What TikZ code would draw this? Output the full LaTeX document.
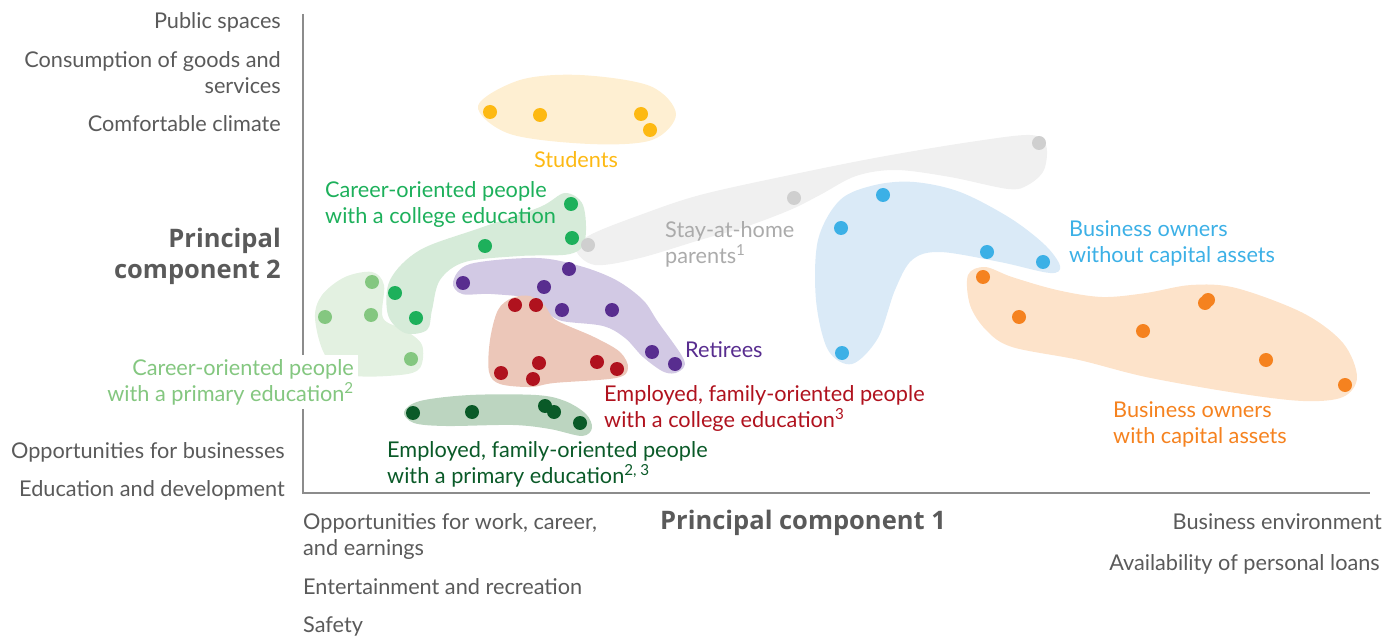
\documentclass[tikz,border=0pt]{standalone}
\usepackage{fontspec}
\setmainfont{Lato}
\newfontfamily\titlefamily{Open Sans}
\definecolor{axisgray}{HTML}{8C8C8C}
\definecolor{labelgray}{HTML}{5A5A5A}
\definecolor{stuyellow}{HTML}{FDB913}
\definecolor{stuyellowbg}{HTML}{FEEFD2}
\definecolor{ccgreen}{HTML}{1DB05B}
\definecolor{ccgreenbg}{HTML}{D6EBD9}
\definecolor{cpgreen}{HTML}{84C780}
\definecolor{cpgreenbg}{HTML}{E3F1E1}
\definecolor{shgray}{HTML}{CFCFCF}
\definecolor{shgraybg}{HTML}{F0F0F0}
\definecolor{shtext}{HTML}{ABABAB}
\definecolor{bwblue}{HTML}{3CB0E6}
\definecolor{bwbluebg}{HTML}{DAEAF7}
\definecolor{bcorange}{HTML}{F5821F}
\definecolor{bcorangebg}{HTML}{FDE3CA}
\definecolor{rtpurple}{HTML}{582D8F}
\definecolor{rtpurplebg}{HTML}{D2C9E4}
\definecolor{ecred}{HTML}{B0121E}
\definecolor{ecredbg}{HTML}{ECC7B9}
\definecolor{epgreen}{HTML}{0A5A28}
\definecolor{epgreenbg}{HTML}{BCD5C0}
\newcommand{\lblfont}{\fontsize{21.7}{26}\selectfont}
\newcommand{\ttlfont}{\titlefamily\fontsize{25.5}{30.5}\selectfont\bfseries}
\tikzset{
    pdot/.style={
        circle,
        inner sep=0pt,
        minimum size=14pt
    },
    blob/.style={
        smooth cycle,
        tension=0.55
    },
    axislabel/.style={
        font=\lblfont,
        text=labelgray,
        inner sep=0pt
    },
    axistitle/.style={
        font=\ttlfont,
        text=labelgray,
        inner sep=0pt
    },
    grouplabel/.style={
        font=\lblfont,
        inner sep=0pt,
        align=left
    }
}

\begin{document}
\begin{tikzpicture}[x=1pt,y=-1pt]
\useasboundingbox (0,0) rectangle (1400,636);
% clusters
\fill[shgraybg] plot[blob] coordinates {(576,250) (590,235) (640,215) (700,195) (790,175) (880,157) (970,142) (1030,135) (1046,145) (1044,170) (1028,185) (1008,189) (950,177) (896,170) (856,176) (820,195) (790,210) (745,227) (700,240) (640,258) (595,265)};
\fill[stuyellowbg] plot[blob] coordinates {(478,106) (520,80) (580,75) (650,86) (676,114) (652,140) (590,144) (510,134)};
\fill[cpgreenbg] plot[blob] coordinates {(315,318) (322,295) (345,277) (372,272) (384,285) (383,318) (405,330) (422,345) (420,368) (400,375) (350,375) (325,355)};
\fill[ccgreenbg] plot[blob] coordinates {(565,193) (583,205) (585,240) (570,254) (520,256) (465,262) (440,280) (432,310) (427,330) (405,333) (388,315) (390,280) (420,250) (480,228) (540,207)};
\fill[rtpurplebg] plot[blob] coordinates {(453,282) (470,264) (536,258) (580,266) (616,280) (643,300) (658,322) (684,360) (678,372) (664,372) (643,357) (625,338) (603,326) (562,321) (547,312) (536,299) (491,294) (462,294)};
\fill[ecredbg] plot[blob] coordinates {(498,310) (512,298) (530,296) (545,306) (556,320) (594,337) (620,352) (628,368) (616,378) (554,383) (531,387) (500,384) (489,372) (490,340)};
\fill[epgreenbg] plot[blob] coordinates {(404,412) (420,401) (470,395) (536,395) (565,401) (586,414) (592,428) (582,436) (550,429) (513,425) (446,426) (414,423)};
\fill[bwbluebg] plot[blob] coordinates {(914,182) (960,192) (1010,218) (1045,245) (1060,266) (1050,273) (1000,262) (940,252) (912,260) (895,290) (878,338) (852,364) (828,350) (816,300) (818,240) (840,200) (875,185)};
\fill[bcorangebg] plot[blob] coordinates {(968,275) (985,267) (1012,277) (1057,290) (1102,297) (1146,293) (1191,285) (1236,288) (1303,313) (1343,343) (1357,377) (1343,397) (1303,401) (1236,393) (1146,377) (1079,360) (1012,347) (986,330) (970,305)};
% axes
\coordinate (top) at (303,14);
\coordinate (origin) at (303,493);
\coordinate (right) at (1370,493);
\draw[axisgray, line width=2pt] (top) -- (origin) -- (right);
% dots
\node[pdot,fill=stuyellow] (st1) at (490,112) {};
\node[pdot,fill=stuyellow] (st2) at (540,115) {};
\node[pdot,fill=stuyellow] (st3) at (641,114) {};
\node[pdot,fill=stuyellow] (st4) at (650,130) {};
\node[pdot,fill=ccgreen] (cc1) at (571,204) {};
\node[pdot,fill=ccgreen] (cc2) at (572,238) {};
\node[pdot,fill=ccgreen] (cc3) at (485,246) {};
\node[pdot,fill=ccgreen] (cc4) at (395,293) {};
\node[pdot,fill=ccgreen] (cc5) at (416,318) {};
\node[pdot,fill=cpgreen] (cp1) at (372,282) {};
\node[pdot,fill=cpgreen] (cp2) at (371,315) {};
\node[pdot,fill=cpgreen] (cp3) at (325,317) {};
\node[pdot,fill=cpgreen] (cp4) at (411,359) {};
\node[pdot,fill=shgray] (sh1) at (588,245) {};
\node[pdot,fill=shgray] (sh2) at (794,198) {};
\node[pdot,fill=shgray] (sh3) at (1039,143) {};
\node[pdot,fill=bwblue] (bw1) at (883,195) {};
\node[pdot,fill=bwblue] (bw2) at (841,228) {};
\node[pdot,fill=bwblue] (bw3) at (987,252) {};
\node[pdot,fill=bwblue] (bw4) at (1043,262) {};
\node[pdot,fill=bwblue] (bw5) at (842,353) {};
\node[pdot,fill=bcorange] (bc1) at (983,277) {};
\node[pdot,fill=bcorange] (bc2) at (1019,317) {};
\node[pdot,fill=bcorange] (bc3) at (1143,331) {};
\node[pdot,fill=bcorange] (bc4) at (1205,303) {};
\node[pdot,fill=bcorange] (bc5) at (1208,300) {};
\node[pdot,fill=bcorange] (bc6) at (1266,360) {};
\node[pdot,fill=bcorange] (bc7) at (1345,385) {};
\node[pdot,fill=rtpurple] (rt1) at (463,283) {};
\node[pdot,fill=rtpurple] (rt2) at (569,269) {};
\node[pdot,fill=rtpurple] (rt3) at (544,287) {};
\node[pdot,fill=rtpurple] (rt4) at (562,310) {};
\node[pdot,fill=rtpurple] (rt5) at (612,310) {};
\node[pdot,fill=rtpurple] (rt6) at (652,352) {};
\node[pdot,fill=rtpurple] (rt7) at (675,364) {};
\node[pdot,fill=ecred] (ec1) at (515,305) {};
\node[pdot,fill=ecred] (ec2) at (536,305) {};
\node[pdot,fill=ecred] (ec3) at (539,363) {};
\node[pdot,fill=ecred] (ec4) at (501,373) {};
\node[pdot,fill=ecred] (ec5) at (533,379) {};
\node[pdot,fill=ecred] (ec6) at (597,362) {};
\node[pdot,fill=ecred] (ec7) at (617,369) {};
\node[pdot,fill=epgreen] (ep1) at (413,413) {};
\node[pdot,fill=epgreen] (ep2) at (472,412) {};
\node[pdot,fill=epgreen] (ep3) at (545,406) {};
\node[pdot,fill=epgreen] (ep4) at (554,412) {};
\node[pdot,fill=epgreen] (ep5) at (580,423) {};
% group labels
\node[grouplabel,text=stuyellow,anchor=north] (stlabel) at (576,151) {Students};
\node[grouplabel,text=ccgreen,anchor=north west] (cclabel) at (325,181) {Career-oriented people\\with a college education};
\node[grouplabel,text=shtext,anchor=north west] (shlabel) at (665,221) {Stay-at-home\\parents\textsuperscript{1}};
\node[grouplabel,text=bwblue,anchor=north west] (bwlabel) at (1069,220) {Business owners\\without capital assets};
\node[grouplabel,text=rtpurple,anchor=north west] (rtlabel) at (685,341) {Retirees};
\node[grouplabel,text=ecred,anchor=north west] (eclabel) at (604,385) {Employed, family-oriented people\\with a college education\textsuperscript{3}};
\node[grouplabel,text=cpgreen,align=right,fill=white,inner sep=4pt,anchor=north east] (cplabel) at (358,355) {Career-oriented people\\with a primary education\textsuperscript{2}};
\node[grouplabel,text=epgreen,anchor=north west] (eplabel) at (387,441) {Employed, family-oriented people\\with a primary education\textsuperscript{2, 3}};
\node[grouplabel,text=bcorange,anchor=north west] (bclabel) at (1113,401) {Business owners\\with capital assets};
% axis labels
\node[axislabel,anchor=north east] (public) at (281,12) {Public spaces};
\node[axislabel,align=right,anchor=north east] (consume) at (281,51) {Consumption of goods and\\services\hspace{5pt}};
\node[axislabel,anchor=north east] (climate) at (281,115) {Comfortable climate};
\node[axistitle,align=right,anchor=north east] (pc2) at (281,228) {Principal\\component 2};
\node[axislabel,anchor=north east] (business) at (285,442) {Opportunities for businesses};
\node[axislabel,anchor=north east] (education) at (285,480) {Education and development};
\node[axislabel,align=left,anchor=north west] (work) at (303,513) {Opportunities for work, career,\\and earnings};
\node[axislabel,anchor=north west] (leisure) at (303,578) {Entertainment and recreation};
\node[axislabel,anchor=north west] (safety) at (303,617) {Safety};
\node[axistitle,anchor=north west] (pc1) at (660,510) {Principal component 1};
\node[axislabel,anchor=north east] (environment) at (1382,513) {Business environment};
\node[axislabel,anchor=north east] (loans) at (1380,554) {Availability of personal loans};
\end{tikzpicture}
\end{document}
